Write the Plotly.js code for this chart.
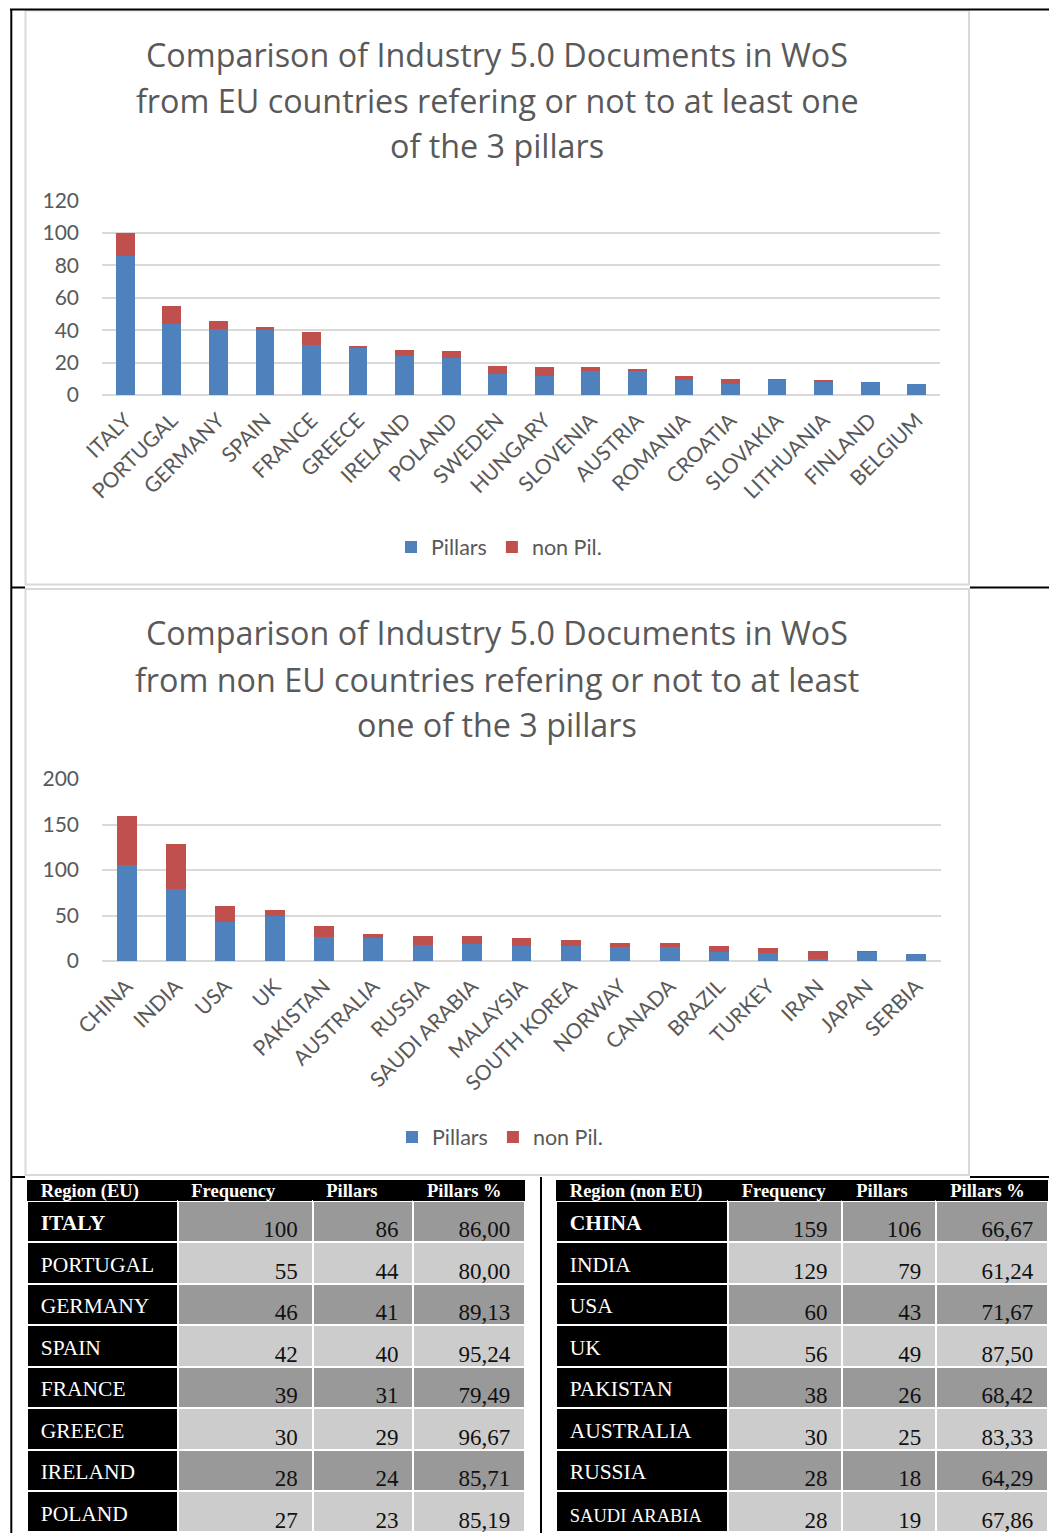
<!DOCTYPE html>
<html><head><meta charset="utf-8">
<script src="https://cdn.plot.ly/plotly-3.0.1.min.js"></script>
<style>
html,body{margin:0;padding:0;background:#fff;overflow:hidden}
#chart{width:1049px;height:1533px}
.scrollbar-kit{display:none !important}
</style></head><body><div id="chart"></div>
<script>
// ---------------- data ----------------
const euCountries = ['ITALY','PORTUGAL','GERMANY','SPAIN','FRANCE','GREECE','IRELAND','POLAND','SWEDEN','HUNGARY','SLOVENIA','AUSTRIA','ROMANIA','CROATIA','SLOVAKIA','LITHUANIA','FINLAND','BELGIUM'];
const euPillars = [86,44,41,40,31,29,24,23,13,12,15,15,9,7,9,8,8,7];
const euNonPil  = [14,11,5,2,8,1,4,4,5,5,2,1,3,3,1,1,0,0];

const nonEuCountries = ['CHINA','INDIA','USA','UK','PAKISTAN','AUSTRALIA','RUSSIA','SAUDI ARABIA','MALAYSIA','SOUTH KOREA','NORWAY','CANADA','BRAZIL','TURKEY','IRAN','JAPAN','SERBIA'];
const nonEuPillars = [106,79,43,49,26,25,18,19,17,17,15,15,10,9,2,10,8];
const nonEuNonPil  = [53,50,17,7,12,5,10,9,8,6,5,5,7,5,9,1,0];

const seriesNames = ['Pillars','non Pil.'];
const titleEU = ['Comparison of Industry 5.0 Documents in WoS','from EU countries refering or not to at least one','of the 3 pillars'];
const titleNonEU = ['Comparison of Industry 5.0 Documents in WoS','from non EU countries refering or not to at least','one of the 3 pillars'];
const yTicksEU = [0,20,40,60,80,100,120];
const yTicksNonEU = [0,50,100,150,200];
const headerEU = ['Region (EU)','Frequency','Pillars','Pillars %'];
const headerNonEU = ['Region (non EU)','Frequency','Pillars','Pillars %'];
const tableRowCount = 8;

// ---------------- layout helpers ----------------
const W = 1049, H = 1533;
const X = p => p / W;
const Y = p => 1 - p / H;
const SANS = 'Lato, "Open Sans", sans-serif';
const TITLE_FONT = '"Open Sans", Lato, sans-serif';
const SERIF = '"Liberation Serif", "Times New Roman", serif';
const GREY_TXT = '#595959';
const BLUE = '#4F81BD', RED = '#C0504D';

// ---------------- bar traces ----------------
const traces = [
  {type:'bar', name:seriesNames[0], x:euCountries, y:euPillars, marker:{color:BLUE}, xaxis:'x', yaxis:'y', legend:'legend'},
  {type:'bar', name:seriesNames[1], x:euCountries, y:euNonPil, marker:{color:RED}, xaxis:'x', yaxis:'y', legend:'legend'},
  {type:'bar', name:seriesNames[0], x:nonEuCountries, y:nonEuPillars, marker:{color:BLUE}, xaxis:'x2', yaxis:'y2', legend:'legend2'},
  {type:'bar', name:seriesNames[1], x:nonEuCountries, y:nonEuNonPil, marker:{color:RED}, xaxis:'x2', yaxis:'y2', legend:'legend2'}
];

// ---------------- tables ----------------
const HEADER_TOP = 1179.5, HEADER_H = 21.2, ROW_H = 41.47;
const EU_EDGES = [27.2, 177.85, 312.8, 413.6, 525.4];
const NONEU_EDGES = [556.3, 728.3, 842.85, 936.85, 1049];
const CLEAR = 'rgba(0,0,0,0)';

function geom(edges, dx) {
  const e = edges.map(v => Math.min(Math.max(v + dx, 0), W));
  const widths = [];
  for (let i = 0; i < 4; i++) widths.push(e[i+1] - e[i]);
  return {domainX: [X(e[0]), X(e[4])], widths};
}
function pctText(p, f) { return (p / f * 100).toFixed(2).replace('.', ','); }

function textTable(edges, dx, top, headerH, headerVals, headerFont, cellVals, align, cellFont) {
  const g = geom(edges, dx);
  return {type:'table', domain:{x:g.domainX, y:[0, Y(top)]}, columnwidth:g.widths,
    header:{values:headerVals, height:headerH, align:'left', fill:{color:CLEAR}, line:{color:CLEAR, width:0}, font:headerFont},
    cells:{values:cellVals, height:ROW_H, align, fill:{color:CLEAR}, line:{color:CLEAR, width:0}, font:cellFont}};
}

function buildTables(countries, pillars, nonPil, header, edges) {
  const n = tableRowCount;
  const region = [], freq = [], pil = [], pc = [], empty = [];
  for (let i = 0; i < n; i++) {
    const f = pillars[i] + nonPil[i];
    region.push(countries[i].replace(/ /g, '\u00a0'));
    freq.push(String(f));
    pil.push(String(pillars[i]));
    pc.push(pctText(pillars[i], f));
    empty.push('');
  }
  const grey = region.map((_, i) => i % 2 === 0 ? '#999999' : '#CCCCCC');
  const black = region.map(() => '#000000');
  const blankHead = ['','','',''];
  const out = [];
  // background cells
  const g0 = geom(edges, 0);
  out.push({type:'table', domain:{x:g0.domainX, y:[0, Y(HEADER_TOP)]}, columnwidth:g0.widths,
    header:{values:blankHead, height:HEADER_H, fill:{color:'#000000'}, line:{color:'#000000', width:0}},
    cells:{values:[empty, empty, empty, empty], height:ROW_H, fill:{color:[black, grey, grey, grey]}, line:{color:'#FFFFFF', width:2}}});
  // header text
  out.push(textTable(edges, 5.5, 1175.2, HEADER_H, header.map(s => s.replace(/ /g, '\u00a0')),
    {family:SERIF, size:18.5, color:'#FFFFFF', weight:'bold'}, [empty, empty, empty, empty], 'left', {family:SERIF, size:12}));
  // region text (long names are set smaller and sit a little lower, so they get their own layer)
  const isLong = region.map(s => s.length > 10);
  const regNormal = region.map((s, i) => isLong[i] ? '' : s);
  const regLong = region.map((s, i) => isLong[i] ? s : '');
  const regWeight = region.map((_, i) => i === 0 ? 'bold' : 'normal');
  out.push(textTable(edges, 5.5, HEADER_TOP, HEADER_H + 5.4, blankHead, {family:SERIF, size:12},
    [regNormal, empty, empty, empty], 'left', {family:SERIF, size:21.5, color:'#FFFFFF', weight:[regWeight, 'normal', 'normal', 'normal']}));
  if (isLong.some(Boolean)) {
    out.push(textTable(edges, 5.5, HEADER_TOP, HEADER_H + 9.5, blankHead, {family:SERIF, size:12},
      [regLong, empty, empty, empty], 'left', {family:SERIF, size:18.5, color:'#FFFFFF'}));
  }
  // value text
  out.push(textTable(edges, -7, HEADER_TOP, HEADER_H + 11.5, blankHead, {family:SERIF, size:12},
    [empty, freq, pil, pc], 'right', {family:SERIF, size:23, color:'#111111'}));
  return out;
}
const tables = buildTables(euCountries, euPillars, euNonPil, headerEU, EU_EDGES)
  .concat(buildTables(nonEuCountries, nonEuPillars, nonEuNonPil, headerNonEU, NONEU_EDGES));

// ---------------- titles ----------------
const TITLE_SIZE = 32.3;
function titleAnns(lines, baselines) {
  return lines.map((t, i) => ({text:t, xref:'paper', yref:'paper', x:X(497), y:Y(baselines[i] - 0.36 * TITLE_SIZE),
    xanchor:'center', yanchor:'middle', showarrow:false, font:{family:TITLE_FONT, size:TITLE_SIZE, color:GREY_TXT}}));
}
const annotations = titleAnns(titleEU, [65.5, 111.7, 157]).concat(titleAnns(titleNonEU, [644, 690.5, 736]));

// ---------------- frames ----------------
function rect(x0, y0, x1, y1, color, width, fill) {
  return {type:'rect', xref:'paper', yref:'paper', x0:X(x0), x1:X(x1), y0:Y(y0), y1:Y(y1),
    line:{color, width}, fillcolor:fill || CLEAR, layer:'below'};
}
function seg(x0, y0, x1, y1) {
  return {type:'line', xref:'paper', yref:'paper', x0:X(x0), x1:X(x1), y0:Y(y0), y1:Y(y1),
    line:{color:'#000000', width:2}, layer:'below'};
}
const shapes = [
  rect(25.5, 10.5, 969, 584.5, '#D9D9D9', 2, '#FFFFFF'),
  rect(25.5, 589, 969, 1175, '#D9D9D9', 2, '#FFFFFF'),
  seg(10, 9.5, 1049, 9.5),
  seg(11.3, 9, 11.3, 1533),
  seg(11, 587.5, 25, 587.5), seg(970, 587.5, 1049, 587.5),
  seg(11, 1177, 25, 1177), seg(970, 1177, 1049, 1177),
  seg(541, 1177, 541, 1533)
];

// ---------------- axes ----------------
const tickFont = {family:SANS, size:21, color:GREY_TXT};
function xAxis(domain, anchor) {
  return {domain, anchor, type:'category', tickangle:-45, tickfont:tickFont, showgrid:false, zeroline:false,
    showline:false, ticks:'', ticklabelstandoff:8, fixedrange:true, automargin:false};
}
function yAxis(domain, anchor, range, tickvals) {
  return {domain, anchor, range, tickmode:'array', tickvals, ticktext:tickvals.map(String), tickfont:tickFont,
    showgrid:true, gridcolor:'#D9D9D9', gridwidth:2, zeroline:true, zerolinecolor:'#D9D9D9', zerolinewidth:2,
    showline:false, ticks:'', ticklabelstandoff:22, fixedrange:true, automargin:false};
}
function legendAt(cx, cy) {
  return {orientation:'h', x:X(cx), xanchor:'center', y:Y(cy), yanchor:'middle', traceorder:'normal',
    bgcolor:CLEAR, font:{family:SANS, size:21.5, color:GREY_TXT}};
}

const layout = {
  width:W, height:H, margin:{l:0, r:0, t:0, b:0}, paper_bgcolor:'#FFFFFF', plot_bgcolor:CLEAR,
  font:{family:SANS, color:GREY_TXT}, barmode:'stack', bargap:0.595, showlegend:true,
  xaxis:xAxis([X(102), X(940)], 'y'),
  yaxis:yAxis([Y(395), Y(200.7)], 'x', [0, 120], yTicksEU),
  xaxis2:xAxis([X(102), X(941)], 'y2'),
  yaxis2:yAxis([Y(961), Y(779)], 'x2', [0, 200], yTicksNonEU),
  legend:legendAt(499, 547),
  legend2:legendAt(500, 1137),
  annotations, shapes
};

Plotly.newPlot('chart', traces.concat(tables), layout, {staticPlot:true, displayModeBar:false});
</script></body></html>
